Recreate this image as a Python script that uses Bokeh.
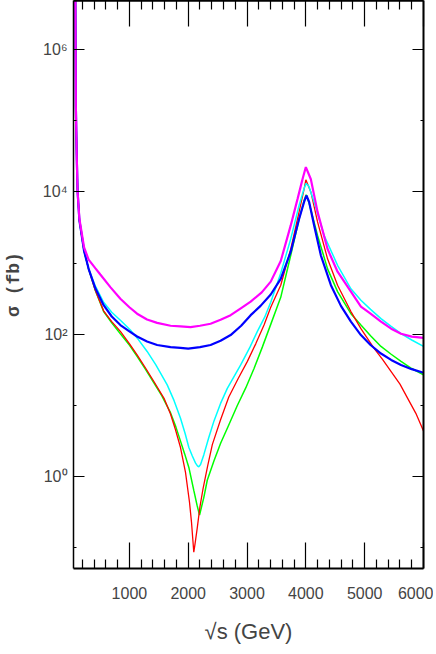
from bokeh.plotting import figure
from bokeh.models import LinearAxis, LogAxis, FixedTicker, Range1d, CustomJSTickFormatter
from bokeh.embed import file_html
from bokeh.resources import INLINE

# ---- data (sqrt(s) in GeV, sigma in fb) ----
x_ticks = [1000, 2000, 3000, 4000, 5000, 6000]
x_minor = [v for v in range(200, 6000, 200) if v % 1000 != 0]
y_ticks = [1, 100, 10000, 1000000]
y_minor = [0.1, 10, 1000, 100000]
y_labels = {1: "10\u2070", 100: "10\u00b2", 10000: "10\u2074", 1000000: "10\u2076"}

mag_x = [80, 90, 105, 120, 150, 230, 307, 420, 506, 680, 847, 1000, 1131, 1300, 1472, 1700, 1869,
         2040, 2200, 2380, 2550, 2721, 2900, 3062, 3250, 3403, 3573, 3743, 3858, 3943, 4000, 4085,
         4199, 4369, 4539, 4766, 4936, 5100, 5277, 5450, 5618, 5800, 6000]
mag_y = [1.0e7, 1.6e5, 3.2e4, 1.0e4, 4.2e3, 1.66e3, 1.12e3, 851, 692, 457, 316, 240, 195, 162, 145, 132, 129,
         126, 132, 141, 160, 186, 234, 288, 389, 550, 1070, 3390, 7940, 15100, 22400, 15100,
         5250, 1580, 759, 398, 245, 195, 151, 120, 102, 93, 89]

blu_x = [80, 90, 105, 120, 150, 230, 307, 420, 562, 700, 847, 1000, 1131, 1300, 1472, 1700, 1869,
         2000, 2200, 2380, 2550, 2721, 2900, 3062, 3230, 3403, 3573, 3743, 3885, 3970, 4010, 4056,
         4141, 4255, 4426, 4596, 4766, 4936, 5100, 5277, 5450, 5618, 5800, 6000]
blu_y = [1.0e7, 1.6e5, 3.2e4, 1.0e4, 4.0e3, 1.48e3, 832, 447, 257, 178, 135, 110, 93.3, 79.4, 70.8, 66.1, 64.6,
         63.1, 66.1, 70.8, 81.3, 97.7, 132, 186, 251, 363, 603, 1450, 4170, 7240, 8910, 7240,
         3390, 1290, 490, 251, 151, 97.7, 70.8, 53.7, 43.7, 37.2, 32.4, 28.8]

cya_x = [80, 90, 105, 120, 150, 230, 307, 420, 562, 700, 847, 1017, 1150, 1302, 1450, 1643, 1760,
         1869, 1950, 2011, 2070, 2125, 2160, 2180, 2210, 2266, 2350, 2437, 2550, 2665, 2892, 3050,
         3176, 3300, 3403, 3573, 3743, 3885, 3970, 4005, 4050, 4141, 4311, 4539, 4766, 4936, 5100,
         5277, 5450, 5618, 5800, 6000]
cya_y = [1.0e7, 1.6e5, 3.2e4, 1.0e4, 4.0e3, 1.48e3, 832, 479, 282, 204, 158, 115, 85.1, 57.5, 37.2, 19.5, 11.7,
         6.61, 3.98, 2.57, 1.95, 1.55, 1.41, 1.38, 1.48, 2.04, 3.55, 6.03, 10.7, 17.4, 37.2, 66.1,
         110, 174, 282, 724, 2190, 6460, 11200, 13200, 12000, 7240, 2450, 933, 437, 302, 224,
         166, 129, 102, 83.2, 67.6]

red_x = [80, 90, 105, 120, 150, 230, 307, 420, 562, 700, 847, 1000, 1131, 1280, 1414, 1589, 1699,
         1784, 1869, 1954, 2022, 2056, 2080, 2095, 2115, 2154, 2200, 2250, 2330, 2410, 2550, 2690,
         2850, 3006, 3150, 3289, 3403, 3573, 3743, 3885, 3970, 4000, 4085, 4199, 4369, 4539, 4766,
         4936, 5163, 5300, 5447, 5600, 5731, 5870, 6000]
red_y = [1.0e7, 1.6e5, 3.2e4, 1.0e4, 4.0e3, 1.48e3, 832, 417, 214, 151, 110, 74.1, 51.3, 33.1, 21.9, 12.6, 7.59,
         4.57, 2.57, 1.15, 0.437, 0.229, 0.126, 0.0871, 0.112, 0.191, 0.380, 0.661, 1.41, 2.82, 6.31, 13.2,
         24.0, 41.7, 74.1, 135, 240, 490, 1580, 5250, 11000, 14800, 10000, 3800, 1150, 490, 209,
         120, 63.1, 44.7, 30.2, 20.0, 12.6, 7.76, 4.37]

grn_x = [80, 90, 105, 120, 150, 230, 307, 420, 562, 700, 847, 1000, 1131, 1280, 1414, 1550, 1699,
         1790, 1869, 1940, 2011, 2097, 2150, 2193, 2225, 2266, 2324, 2437, 2551, 2665, 2835, 2980,
         3119, 3260, 3403, 3573, 3743, 3885, 3970, 4005, 4050, 4199, 4369, 4539, 4766, 4936, 5100,
         5277, 5450, 5618, 5800, 6000]
grn_y = [1.0e7, 1.6e5, 3.2e4, 1.0e4, 4.0e3, 1.48e3, 832, 417, 209, 145, 102, 70.8, 49.0, 31.6, 20.9, 13.8, 7.94,
         5.01, 3.16, 2.09, 1.35, 0.631, 0.398, 0.288, 0.372, 0.513, 0.891, 1.66, 2.95, 4.79, 10.0, 17.8,
         33.1, 66.1, 138, 331, 1290, 4170, 7590, 9120, 7240, 2450, 832, 398, 195, 135, 95.5,
         67.6, 52.5, 41.7, 33.1, 26.9]

TICK_FONT = "Liberation Sans"

p = figure(frame_width=350, frame_height=568,
           x_range=Range1d(50, 6000), y_range=Range1d(0.0513, 4.9e6),
           y_axis_type="log", output_backend="svg", toolbar_location=None,
           min_border_left=73, min_border_right=10, min_border_top=0, min_border_bottom=0,
           background_fill_color="white", border_fill_color="white")
p.grid.visible = False
p.outline_line_color = None

p.line(grn_x, grn_y, line_color="#00ff00", line_width=1.5)
p.line(red_x, red_y, line_color="#ff0000", line_width=1.3)
p.line(cya_x, cya_y, line_color="#00ffff", line_width=1.5)
p.line(blu_x, blu_y, line_color="#0000ff", line_width=2.2)
p.line(mag_x, mag_y, line_color="#ff00ff", line_width=2.2)

def style(ax, major_in, minor_in, lw):
    ax.major_tick_in = major_in
    ax.major_tick_out = 0
    ax.minor_tick_in = minor_in
    ax.minor_tick_out = 0
    ax.axis_line_width = lw
    ax.axis_line_color = "black"
    ax.major_tick_line_color = "black"
    ax.minor_tick_line_color = "black"
    ax.major_tick_line_width = 1.2
    ax.minor_tick_line_width = 1.2

xb = p.xaxis[0]
xb.ticker = FixedTicker(ticks=x_ticks, minor_ticks=x_minor)
style(xb, 26, 9, 2)
xb.major_label_text_font = TICK_FONT
xb.major_label_text_font_size = "16px"
xb.major_label_standoff = 18
xb.axis_label = "\u221as (GeV)"
xb.axis_label_text_font = TICK_FONT
xb.axis_label_text_font_style = "normal"
xb.axis_label_text_font_size = "22px"
xb.axis_label_standoff = 17

yl = p.yaxis[0]
yl.ticker = FixedTicker(ticks=y_ticks, minor_ticks=y_minor)
style(yl, 11, 3, 1.5)
yl.major_label_overrides = y_labels
yl.major_label_text_font = TICK_FONT
yl.major_label_text_font_size = "16px"
yl.major_label_standoff = 6
yl.axis_label = "\u03c3 (fb)"
yl.axis_label_text_font = "Liberation Mono"
yl.axis_label_text_font_style = "bold"
yl.axis_label_text_font_size = "18px"
yl.axis_label_standoff = 16

blank = CustomJSTickFormatter(code="return ''")

top = LinearAxis(ticker=FixedTicker(ticks=x_ticks, minor_ticks=x_minor), formatter=blank)
style(top, 26, 9, 2.5)
top.major_label_standoff = 0
p.add_layout(top, "above")

right = LogAxis(ticker=FixedTicker(ticks=y_ticks, minor_ticks=y_minor), formatter=blank)
style(right, 11, 3, 2)
right.major_label_standoff = 0
p.add_layout(right, "right")

open("out.html", "w").write(file_html(p, INLINE))
